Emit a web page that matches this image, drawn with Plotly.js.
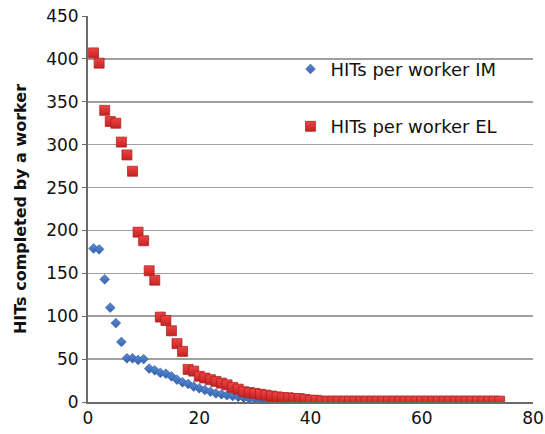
<!DOCTYPE html>
<html>
<head>
<meta charset="utf-8">
<script src="https://cdn.plot.ly/plotly-3.0.1.min.js"></script>
<style>html,body{margin:0;padding:0;background:#fff;}#chart{width:545px;height:434px;}</style>
</head>
<body>
<div id="chart"></div>
<script>
const imX = [1,2,3,4,5,6,7,8,9,10,11,12,13,14,15,16,17,18,19,20,21,22,23,24,25,26,27,28,29,30,31,32,33,34,35,36,37,38,39,40,41,42];
const imY = [179,178,143,110,92,70,51,51,49,50,39,37,34,33,30,26,23,21,18,16,14,12,10,9,8,7,6,5,4,4,3,3,2,2,2,1,1,1,1,1,1,1];
const elX = [];
for (let i = 1; i <= 74; i++) elX.push(i);
const elY = [407,395,340,327,325,303,288,269,198,188,153,142,99,95,83,68,59,38,36,30,28,26,24,22,20,17,15,12,11,10,9,8,7,6,5,5,4,4,3,2,2,
  1,1,1,1,1,1,1,1,1,1,1,1,1,1,1,1,1,1,1,1,1,1,1,1,1,1,1,1,1,1,1,1,1];
const xTicks = [0,20,40,60,80];
const yTicks = [0,50,100,150,200,250,300,350,400,450];

const traces = [
  {x: imX, y: imY, type: 'scatter', mode: 'markers', name: 'HITs per worker IM', legendgroup: 'a',
   marker: {symbol: 'diamond', size: 7.5, color: '#5b8ad6', gradient: {type: 'vertical', color: '#3563ab'},
            line: {color: '#2f5f9f', width: 0.6}}},
  {x: elX, y: elY, type: 'scatter', mode: 'markers', name: 'HITs per worker EL', legendgroup: 'b',
   marker: {symbol: 'square', size: 10, color: '#ee4444', gradient: {type: 'vertical', color: '#c62222'},
            line: {color: '#a81c1c', width: 0.7}}}
];

const layout = {
  width: 545, height: 434,
  margin: {l: 88, r: 12, t: 16, b: 32},
  paper_bgcolor: '#fff', plot_bgcolor: '#fff',
  font: {family: 'DejaVu Sans, sans-serif', size: 16, color: '#111'},
  showlegend: true,
  legend: {x: 0.455, y: 0.91, xanchor: 'left', yanchor: 'top', bgcolor: 'rgba(0,0,0,0)',
           traceorder: 'grouped', tracegroupgap: 31, font: {size: 18}},
  xaxis: {range: [0, 80], tickvals: xTicks, showgrid: false, zeroline: false,
          showline: true, linecolor: '#6a6a6a', linewidth: 2, ticks: '', tickfont: {size: 17}},
  yaxis: {range: [0, 450], tickvals: yTicks, showgrid: true, gridcolor: '#a0a0a0', gridwidth: 1.5,
          zeroline: false, showline: true, linecolor: '#6a6a6a', linewidth: 2,
          ticks: 'outside', ticklen: 4, tickcolor: '#6a6a6a', tickfont: {size: 17},
          title: {text: '<b>HITs completed by a worker</b>', font: {size: 16}, standoff: 16}}
};

Plotly.newPlot('chart', traces, layout, {displayModeBar: false, staticPlot: true});
</script>
</body>
</html>
